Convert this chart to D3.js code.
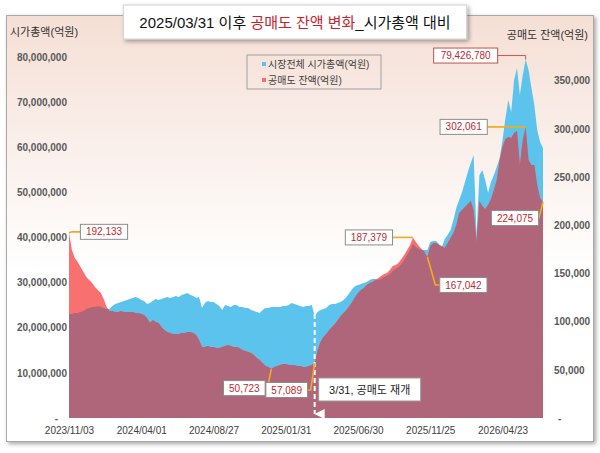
<!DOCTYPE html>
<html>
<head>
<meta charset="utf-8">
<script src="https://cdn.jsdelivr.net/npm/d3@7"></script>
<style>
  body { margin: 0; background: #fff; }
  text { font-family: "Liberation Sans", "Noto Sans CJK KR", sans-serif; }
</style>
</head>
<body>
<svg id="chart"></svg>
<script>
// 시장전체 시가총액 (백만 억원 단위)
const capMil = [
  23.05, 23.05, 23.27, 23.27, 23.49, 23.71, 24.16, 24.38, 24.60, 24.60,
  24.82, 24.60, 24.38, 24.16, 24.16, 24.82, 25.26, 25.48, 25.71, 25.93,
  26.15, 26.37, 26.59, 26.81, 26.59, 26.15, 25.93, 25.26, 25.48, 25.93,
  26.37, 26.15, 26.37, 26.59, 26.81, 26.59, 26.81, 27.04, 26.81, 27.26,
  27.48, 27.70, 27.26, 27.04, 26.59, 26.81, 24.38, 25.48, 25.93, 25.71,
  25.71, 25.26, 24.82, 23.93, 25.04, 24.82, 24.60, 25.04, 25.04, 24.60,
  24.60, 24.38, 24.38, 23.93, 23.71, 23.49, 23.27, 23.93, 24.38, 24.38,
  24.60, 24.60, 24.60, 24.60, 24.82, 24.82, 25.04, 25.48, 25.26, 25.04,
  24.82, 24.60, 24.82, 24.82, 25.04, 22.60, 23.49, 23.93, 24.16, 24.38,
  25.04, 25.26, 25.26, 25.48, 25.71, 26.15, 26.81, 27.70, 28.59, 29.25,
  29.47, 29.70, 29.92, 30.14, 30.58, 30.80, 30.80, 30.58, 30.80, 31.25,
  31.47, 31.91, 32.58, 33.02, 33.46, 34.13, 35.01, 36.12, 37.23, 38.56,
  37.89, 37.45, 37.23, 37.23, 37.23, 39.00, 39.22, 39.22, 38.56, 37.89,
  39.67, 40.55, 41.66, 43.88, 46.54, 48.31, 50.08, 52.30, 54.52, 56.51,
  58.28, 40.55, 53.85, 54.96, 52.74, 49.86, 52.30, 53.85, 55.62, 57.62,
  61.61, 66.48, 70.47, 67.81, 74.90, 77.56, 71.58, 76.01, 79.42678, 77.12,
  73.13, 69.36, 63.82, 61.16, 59.83
]

// 공매도 잔액 (천 억원 단위)
const shortK = [
  192.133, 174.33, 166.03, 161.88, 156.69, 151.50, 146.31, 143.20, 140.09, 135.94,
  132.82, 129.71, 123.48, 115.18, 111.03, 111.03, 109.99, 109.99, 111.03, 109.99,
  109.99, 109.99, 109.99, 108.96, 108.96, 107.92, 106.88, 103.77, 98.58, 101.69,
  99.62, 98.58, 94.43, 91.31, 89.24, 88.20, 87.16, 87.16, 87.16, 88.20,
  88.20, 89.24, 89.24, 88.20, 86.13, 80.94, 73.67, 73.67, 74.71, 73.67,
  73.67, 72.64, 72.64, 73.67, 74.71, 75.75, 74.71, 73.67, 73.67, 72.64,
  70.56, 69.52, 68.49, 67.45, 65.37, 62.26, 60.18, 57.07, 53.96, 52.92,
  50.723, 52.92, 53.96, 55.00, 56.03, 56.03, 55.00, 55.00, 55.00, 53.96,
  53.96, 52.92, 52.92, 53.96, 55.00, 57.089, 70.56, 78.86, 84.05, 87.16,
  91.31, 94.43, 97.54, 101.69, 105.84, 108.96, 112.07, 116.22, 120.37, 125.56,
  129.71, 132.82, 134.90, 138.01, 140.09, 141.12, 143.20, 145.27, 147.35, 149.42,
  150.46, 153.57, 157.73, 158.76, 160.84, 164.99, 169.14, 174.33, 179.52, 187.379,
  182.63, 178.48, 175.37, 172.25, 167.042, 178.48, 181.59, 181.59, 179.52, 178.48,
  176.40, 181.59, 186.78, 191.97, 200.27, 212.72, 215.84, 218.95, 222.06, 225.17,
  215.84, 182.63, 225.17, 219.99, 216.87, 221.02, 227.25, 236.59, 246.97, 267.72,
  281.21, 289.51, 291.59, 290.55, 295.74, 297.81, 262.53, 288.47, 302.061, 267.72,
  262.53, 262.53, 241.78, 228.29, 224.075
]

const dateLabels = ['2023/11/03', '2024/04/01', '2024/08/27', '2025/01/31', '2025/06/30', '2025/11/25', '2026/04/23']
const dateLabelIdx = [0, 25, 50, 75, 100, 125, 150]
const capTicks = [0, 10, 20, 30, 40, 50, 60, 70, 80]
const shortTicks = [0, 50, 100, 150, 200, 250, 300, 350]
const resumeIdx = 85

// 주석: 시리즈, 인덱스
const calloutSeries = ['short', 'cap', 'short', 'short', 'short', 'short', 'short', 'short']
const calloutIdx = [0, 158, 158, 119, 124, 164, 70, 85]

const width = 600
const height = 453
const blue = '#5cc3ec'
const red = '#f97070'
const mauve = '#b0667a'
const gold = '#f2aa1f'

const svg = d3.select('#chart')
  .attr('width', width)
  .attr('height', height)

const defs = svg.append('defs')
const grad = defs.append('linearGradient')
  .attr('id', 'bg').attr('x1', 0).attr('y1', 0).attr('x2', 0).attr('y2', 1)
grad.append('stop').attr('offset', '0%').attr('stop-color', '#f5dfd5')
grad.append('stop').attr('offset', '60%').attr('stop-color', '#ffffff')

const shadow = defs.append('filter').attr('id', 'shadow')
  .attr('x', '-10%').attr('y', '-20%').attr('width', '130%').attr('height', '160%')
shadow.append('feDropShadow')
  .attr('dx', 2).attr('dy', 2).attr('stdDeviation', 2)
  .attr('flood-color', '#000').attr('flood-opacity', 0.35)

const arrow = defs.append('marker')
  .attr('id', 'arrow').attr('viewBox', '0 0 10 10')
  .attr('refX', 5).attr('refY', 10)
  .attr('markerWidth', 5).attr('markerHeight', 5)
  .attr('orient', 'auto-start-reverse')
arrow.append('path').attr('d', 'M0,0 L10,0 L5,10 Z').attr('fill', '#fff')

// 차트 영역
svg.append('rect')
  .attr('x', 6.5).attr('y', 15.5)
  .attr('width', 587).attr('height', 426)
  .attr('fill', 'url(#bg)')
  .attr('stroke', '#a9a9a9')
  .attr('filter', 'url(#shadow)')

// Scales
const x = d3.scaleLinear().domain([0, capMil.length - 1]).range([69, 543])
const yCap = d3.scaleLinear().domain([0, 84.2]).range([418, 38])
const yShort = d3.scaleLinear().domain([0, 394.3]).range([418, 38])

const capArea = d3.area()
  .x((d, i) => x(i))
  .y0(yCap(0))
  .y1(d => yCap(d))
const shortArea = d3.area()
  .x((d, i) => x(i))
  .y0(yShort(0))
  .y1(d => yShort(d))

defs.append('clipPath').attr('id', 'capClip')
  .append('path').attr('d', capArea(capMil))

const g = svg.append('g')

// 시가총액 (파랑)
g.append('path').attr('d', capArea(capMil)).attr('fill', blue)
// 공매도 잔액 (빨강)
g.append('path').attr('d', shortArea(shortK)).attr('fill', red)
// 겹치는 부분
g.append('path').attr('d', shortArea(shortK)).attr('fill', mauve)
  .attr('clip-path', 'url(#capClip)')

// Axes
const fmt = d3.format(',')
const leftAxis = svg.append('g')
  .attr('transform', 'translate(67,0)')
  .call(d3.axisLeft(yCap).tickValues(capTicks).tickSize(0).tickPadding(0)
    .tickFormat(d => d === 0 ? '-' : fmt(d * 1000000)))
leftAxis.select('.domain').remove()
leftAxis.selectAll('text')
  .attr('font-size', 10).attr('font-weight', 'bold').attr('fill', '#595959')
  .attr('dx', d => d === 0 ? -9 : 0)

const rightAxis = svg.append('g')
  .attr('transform', 'translate(554,0)')
  .call(d3.axisRight(yShort).tickValues(shortTicks).tickSize(0).tickPadding(0)
    .tickFormat(d => d === 0 ? '-' : fmt(d * 1000)))
rightAxis.select('.domain').remove()
rightAxis.selectAll('text')
  .attr('font-size', 10).attr('font-weight', 'bold').attr('fill', '#595959')
  .attr('dx', d => d === 0 ? 4 : 0)

const bottomAxis = svg.append('g')
  .attr('transform', 'translate(0,424)')
  .call(d3.axisBottom(x).tickValues(dateLabelIdx).tickSize(0).tickPadding(3)
    .tickFormat((d, i) => dateLabels[i]))
bottomAxis.select('.domain').remove()
bottomAxis.selectAll('text')
  .attr('font-size', 10).attr('fill', '#404040')

// Axis titles
svg.append('text').attr('x', 10).attr('y', 36)
  .attr('font-size', 11).attr('fill', '#333').text('시가총액(억원)')
svg.append('text').attr('x', 588).attr('y', 39).attr('text-anchor', 'end')
  .attr('font-size', 11).attr('fill', '#333').text('공매도 잔액(억원)')

// Legend
const legend = svg.append('g').attr('transform', 'translate(247,55)')
legend.append('rect').attr('width', 134).attr('height', 34)
  .attr('fill', 'none').attr('stroke', '#a0a0a0')
const legendItems = [['시장전체 시가총액(억원)', blue], ['공매도 잔액(억원)', red]]
legendItems.forEach(([label, color], i) => {
  legend.append('rect').attr('x', 15).attr('y', 7 + i * 16)
    .attr('width', 4).attr('height', 4).attr('fill', color)
  legend.append('text').attr('x', 21).attr('y', 13 + i * 16)
    .attr('font-size', 10).attr('fill', '#404040').text(label)
})

// 3/31 공매도 재개 선
const xr = x(resumeIdx)
svg.append('line')
  .attr('x1', xr).attr('x2', xr)
  .attr('y1', yCap(capMil[resumeIdx]) - 10).attr('y2', yCap(0) - 4)
  .attr('stroke', '#fff').attr('stroke-width', 2)
  .attr('stroke-dasharray', '5,3')
  .attr('marker-end', 'url(#arrow)')

const resumeBox = svg.append('g').attr('transform', `translate(${xr + 4},378)`)
resumeBox.append('rect').attr('width', 102).attr('height', 23)
  .attr('fill', '#fff').attr('stroke', '#999')
resumeBox.append('text').attr('x', 51).attr('y', 15.5).attr('text-anchor', 'middle')
  .attr('font-size', 11).attr('fill', '#222').text('3/31, 공매도 재개')

// Callouts: box centre offset from the point and leader shape
const calloutLayout = [
  { dx: 35, dy: -1, shape: 'elbowRight' },
  { dx: -60, dy: -4, shape: 'topRight' },
  { dx: -62, dy: 0, shape: 'straight' },
  { dx: -44, dy: 0, shape: 'straight' },
  { dx: 36, dy: 28, shape: 'elbowRight' },
  { dx: -28, dy: 16, shape: 'elbowLeft' },
  { dx: -27, dy: 19, shape: 'elbowLeft' },
  { dx: -28, dy: 27, shape: 'elbowLeft' }
]

calloutIdx.forEach((idx, k) => {
  const isCap = calloutSeries[k] === 'cap'
  const value = isCap ? capMil[idx] * 1000000 : shortK[idx] * 1000
  const px = x(idx)
  const py = isCap ? yCap(capMil[idx]) : yShort(shortK[idx])
  const lay = calloutLayout[k]
  const bx = px + lay.dx
  const by = py + lay.dy
  const label = fmt(Math.round(value))
  const w = label.length * 5.6 + 8
  const h = 15
  const lineColor = isCap ? '#d9534f' : gold
  let d
  if (lay.shape === 'elbowRight') {
    d = `M${px},${py} L${px + (lay.dy > 5 ? 8 : 3)},${by} L${bx - w / 2},${by}`
  } else if (lay.shape === 'elbowLeft') {
    d = `M${px},${py} L${px - 4},${by} L${bx + w / 2},${by}`
  } else if (lay.shape === 'topRight') {
    d = `M${bx + w / 2},${by} L${px},${by} L${px},${py}`
  } else {
    d = `M${bx + w / 2},${by} L${px},${py}`
  }
  svg.append('path').attr('d', d).attr('fill', 'none')
    .attr('stroke', lineColor).attr('stroke-width', isCap ? 1 : 1.6)
  svg.append('rect')
    .attr('x', bx - w / 2).attr('y', by - h / 2)
    .attr('width', w).attr('height', h)
    .attr('fill', '#fff').attr('stroke', isCap ? '#c0504d' : '#8c8c8c')
  svg.append('text')
    .attr('x', bx).attr('y', by + 3.6).attr('text-anchor', 'middle')
    .attr('font-size', 10).attr('fill', '#c0282d').text(label)
})

// Title
const title = svg.append('g')
const titleText = title.append('text')
  .attr('x', 295).attr('y', 28).attr('text-anchor', 'middle')
  .attr('font-size', 15).attr('fill', '#111')
titleText.append('tspan').text('2025/03/31 이후 ')
titleText.append('tspan').attr('fill', '#c8232c').text('공매도 잔액 변화')
titleText.append('tspan').text('_시가총액 대비')
const tb = titleText.node().getBBox()
title.insert('rect', 'text')
  .attr('x', tb.x - 16).attr('y', 5)
  .attr('width', tb.width + 32).attr('height', 34)
  .attr('fill', '#fff').attr('stroke', '#d0d0d0')
  .attr('filter', 'url(#shadow)')
</script>
</body>
</html>
